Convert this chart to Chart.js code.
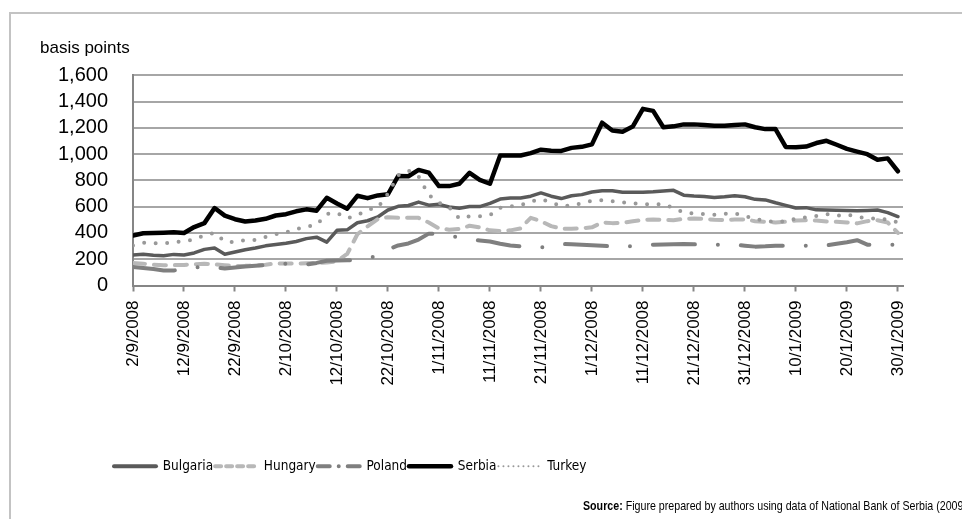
<!DOCTYPE html>
<html>
<head>
<meta charset="utf-8">
<script src="https://cdn.jsdelivr.net/npm/chart.js@4.4.0/dist/chart.umd.min.js"></script>
<style>
  html, body { margin: 0; padding: 0; background: #fff; overflow: hidden; }
  #wrap { position: relative; width: 962px; height: 519px; }
  #frame { position: absolute; left: 9px; top: 12px; width: 1000px; height: 600px;
           border-left: 2px solid #c3c3c3; border-top: 2px solid #c3c3c3; }
  #plot { position: absolute; left: 0; top: 0; width: 962px; height: 519px; }
  #source { position: absolute; left: 583px; top: 498px; white-space: nowrap; color: #000;
            font: 13px 'Liberation Sans', Arial, sans-serif;
            transform: scaleX(0.82); transform-origin: 0 0; }
</style>
</head>
<body>
<div id="wrap">
  <div id="frame"></div>
  <div id="plot"><canvas id="chart"></canvas></div>
  <div id="source"><b>Source:</b> Figure prepared by authors using data of National Bank of Serbia (2009)</div>
</div>
<script>
// days after 2/9/2008 (one reading every second day)
const days = [
  0, 2, 4, 6, 8, 10, 12, 14, 16, 18,
  20, 22, 24, 26, 28, 30, 32, 34, 36, 38,
  40, 42, 44, 46, 48, 50, 52, 54, 56, 58,
  60, 62, 64, 66, 68, 70, 72, 74, 76, 78,
  80, 82, 84, 86, 88, 90, 92, 94, 96, 98,
  100, 102, 104, 106, 108, 110, 112, 114, 116, 118,
  120, 122, 124, 126, 128, 130, 132, 134, 136, 138,
  140, 142, 144, 146, 148, 150
];

// spreads in basis points
const bulgaria = [
  233, 238, 230, 227, 237, 232, 248, 275, 285, 238,
  255, 272, 285, 302, 312, 322, 335, 357, 368, 330,
  420, 424, 478, 493, 522, 575, 603, 609, 635, 612,
  618, 598, 588, 601, 601, 625, 658, 666, 666, 680,
  705, 680, 662, 683, 692, 712, 722, 722, 710, 710,
  710, 714, 720, 725, 688, 682, 678, 671, 675, 683,
  676, 656, 652, 630, 610, 590, 593, 576, 575, 574,
  572, 570, 572, 575, 555, 525
];
const hungary = [
  172, 166, 158, 155, 155, 157, 162, 166, 161, 155,
  149, 150, 153, 158, 168, 167, 167, 170, 172, 175,
  185, 240, 390, 450, 505, 520, 515, 516, 515, 480,
  435, 425, 430, 455, 442, 420, 415, 420, 435, 515,
  490, 452, 433, 432, 436, 443, 480, 475, 478, 489,
  500, 503, 500, 497, 508, 510, 508, 500, 498, 503,
  503, 490, 485, 480, 485, 495, 497, 495, 487, 485,
  480, 473, 490, 497, 480, 400
];
const poland = [
  140, 133, 125, 115, 114, 125, 138, 140, 137, 130,
  137, 145, 150, 155, 162, 166, 165, 160, 172, 188,
  190, 192, 195, 208, 225, 275, 305, 320, 350, 395,
  392, 378, 365, 350, 343, 335, 318, 305, 298, 292,
  290, 305, 316, 314, 311, 307, 303, 298, 295, 300,
  308, 311, 312, 314, 316, 314, 311, 311, 311, 311,
  303, 296, 298, 302, 303, 303, 303, 303, 305, 318,
  330, 345, 311, 311, 311, 311
];
const serbia = [
  381, 398, 400, 402, 405, 400, 445, 475, 590, 532,
  505, 487, 495, 508, 533, 543, 565, 580, 570, 668,
  625, 585, 683, 665, 686, 695, 834, 832, 880, 860,
  757, 757, 775, 858, 805, 775, 990, 990, 990, 1008,
  1034, 1027, 1025, 1048, 1056, 1075, 1240, 1180, 1171, 1210,
  1345, 1330, 1205, 1212, 1227, 1227, 1222, 1217, 1217, 1222,
  1227, 1205, 1191, 1191, 1055, 1052, 1058, 1085, 1102, 1072,
  1041, 1020, 1000, 958, 968, 870
];
const turkey = [
  305, 325, 323, 321, 328, 338, 350, 383, 400, 335,
  330, 347, 347, 370, 390, 405, 428, 448, 462, 545,
  553, 512, 535, 577, 592, 700, 840, 875, 830, 690,
  630, 595, 510, 528, 527, 535, 592, 602, 612, 641,
  657, 634, 605, 610, 625, 645, 650, 642, 632, 627,
  620, 619, 619, 590, 556, 549, 543, 538, 545, 549,
  530, 505, 493, 483, 490, 508, 520, 530, 543, 531,
  540, 523, 512, 510, 503, 480
];

const startDate = new Date(2008, 8, 2);
const yTicks = [0, 200, 400, 600, 800, 1000, 1200, 1400, 1600];

function dayLabel(v) {
  const d = new Date(startDate);
  d.setDate(d.getDate() + v);
  return d.getDate() + '/' + (d.getMonth() + 1) + '/' + d.getFullYear();
}

function points(values) {
  return days.map((d, i) => ({ x: d, y: values[i] }));
}

Chart.defaults.font.family = "'Liberation Sans', Arial, sans-serif";
Chart.defaults.color = '#000';

// excel put the legend left of centre, so move it over
const legendLeft = {
  id: 'legendLeft',
  afterLayout(chart) {
    const lg = chart.legend;
    lg.left = 114 - lg.options.labels.padding;
  }
};

// with usePointStyle the legend takes the point style, so put the line dash back
function legendLabels(chart) {
  const items = Chart.defaults.plugins.legend.labels.generateLabels(chart);
  items.forEach((it) => {
    const ds = chart.data.datasets[it.datasetIndex];
    it.strokeStyle = ds.borderColor;
    it.lineWidth = ds.legendWidth || ds.borderWidth;
    it.lineDash = ds.legendDash || [];
    it.lineCap = 'round';
  });
  return items;
}

const lineStyle = {
  pointRadius: 0,
  tension: 0,
  fill: false,
  borderCapStyle: 'round',
  borderJoinStyle: 'round'
};

new Chart(document.getElementById('chart'), {
  type: 'line',
  data: {
    datasets: [
      { ...lineStyle, label: 'Bulgaria', data: points(bulgaria), borderColor: '#5a5a5a', backgroundColor: '#5a5a5a',
        borderWidth: 3.5, legendWidth: 4, order: 5 },
      { ...lineStyle, label: 'Hungary', data: points(hungary), borderColor: '#b8b8b8', backgroundColor: '#b8b8b8',
        borderWidth: 4, borderDash: [12, 9], legendDash: [6, 5], order: 4 },
      { ...lineStyle, label: 'Poland', data: points(poland), borderColor: '#7f7f7f', backgroundColor: '#7f7f7f',
        borderWidth: 4, borderDash: [42, 23, 0, 23], legendDash: [12, 9, 0, 9], order: 3 },
      { ...lineStyle, label: 'Serbia', data: points(serbia), borderColor: '#000', backgroundColor: '#000',
        borderWidth: 4.5, order: 2 },
      { ...lineStyle, label: 'Turkey', data: points(turkey), borderColor: '#999', backgroundColor: '#999',
        borderWidth: 4, borderDash: [0, 11.5], legendWidth: 2, legendDash: [0, 5], order: 1 }
    ]
  },
  options: {
    responsive: true,
    maintainAspectRatio: false,
    animation: false,
    events: [],
    layout: { padding: { left: 40, right: 59, top: 0, bottom: 36 } },
    plugins: {
      title: {
        display: true,
        text: 'basis points',
        align: 'start',
        color: '#000',
        font: { size: 17, weight: 'normal' },
        padding: { top: 38, bottom: 17 }
      },
      legend: {
        position: 'bottom',
        align: 'start',
        labels: {
          usePointStyle: true,
          pointStyle: 'line',
          pointStyleWidth: 42,
          padding: 2,
          color: '#000',
          font: { family: "'DejaVu Sans Condensed', 'Liberation Sans', sans-serif", size: 13.5 },
          generateLabels: legendLabels,
          sort: (a, b) => a.datasetIndex - b.datasetIndex
        }
      },
      tooltip: { enabled: false }
    },
    scales: {
      x: {
        type: 'linear',
        min: 0,
        max: 151,
        afterFit: (scale) => { scale.height = 172; },
        grid: { drawOnChartArea: false, drawTicks: true, tickLength: 6, tickColor: '#868686', tickWidth: 2 },
        border: { color: '#868686', width: 2 },
        ticks: {
          stepSize: 10,
          includeBounds: false,
          autoSkip: false,
          minRotation: 90,
          maxRotation: 90,
          padding: 9,
          color: '#000',
          font: { size: 17 },
          callback: (v) => dayLabel(v)
        }
      },
      y: {
        min: 0,
        max: 1600,
        afterFit: (scale) => { scale.width = 93; },
        afterBuildTicks: (scale) => { scale.ticks = yTicks.map(v => ({ value: v })); },
        grid: { color: '#a6a6a6', lineWidth: 2, drawTicks: false },
        border: { color: '#868686', width: 2 },
        ticks: {
          autoSkip: false,
          padding: 25,
          color: '#000',
          font: { size: 20 },
          callback: (v) => v.toLocaleString('en-US')
        }
      }
    }
  },
  plugins: [legendLeft]
});
</script>
</body>
</html>
